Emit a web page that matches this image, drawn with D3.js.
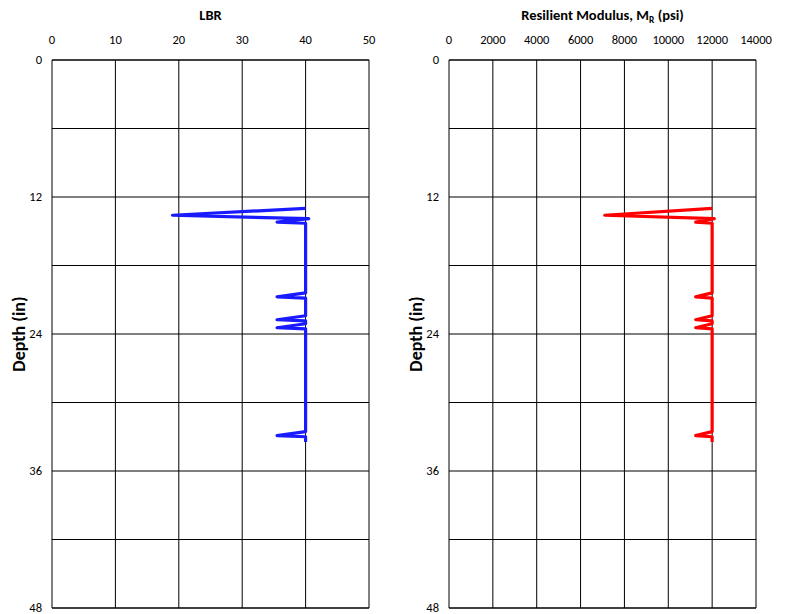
<!DOCTYPE html>
<html><head><meta charset="utf-8">
<script src="https://cdn.jsdelivr.net/npm/d3@7"></script>
<style>
body{margin:0;background:#fff;}
svg{display:block;}
text{font-family:Carlito,"Liberation Sans",Arial,sans-serif;}
</style></head><body>
<script>
// Data
const depth = [13.0, 13.6, 13.9, 14.2, 14.3, 20.4, 20.75, 20.85, 22.4, 22.75, 22.85, 23.1, 23.45, 23.55, 32.55, 32.9, 33.0, 33.45];
const lbr   = [40, 19, 40.5, 35.5, 40, 40, 35.5, 40, 40, 35.5, 40, 40, 35.5, 40, 40, 35.5, 40, 40];
const mr    = [12000, 7100, 12100, 11250, 12000, 12000, 11250, 12000, 12000, 11250, 12000, 12000, 11250, 12000, 12000, 11250, 12000, 12000];
const lbrTicks = [0, 10, 20, 30, 40, 50];
const mrTicks = [0, 2000, 4000, 6000, 8000, 10000, 12000, 14000];
const depthLabels = [0, 12, 24, 36, 48];
const depthGrid = [0, 6, 12, 18, 24, 30, 36, 42, 48];

const W = 786, H = 614;
const svg = d3.select("body").append("svg").attr("width", W).attr("height", H);

function panel(opts) {
  const x = d3.scaleLinear().domain(opts.domain).range([opts.x0, opts.x1]);
  const y = d3.scaleLinear().domain([0, 48]).range([60, 608]);
  const g = svg.append("g");
  // vertical grid
  g.selectAll(".vg").data(opts.ticks).join("line")
    .attr("x1", d => x(d)).attr("x2", d => x(d))
    .attr("y1", y(0)).attr("y2", y(48))
    .attr("stroke", "#000").attr("stroke-width", 1);
  // horizontal grid
  g.selectAll(".hg").data(depthGrid).join("line")
    .attr("x1", x(opts.domain[0])).attr("x2", x(opts.domain[1]))
    .attr("y1", d => y(d)).attr("y2", d => y(d))
    .attr("stroke", "#000").attr("stroke-width", d => (d === 0 || d === 48) ? 1.5 : 1);
  // top tick labels
  g.selectAll(".xt").data(opts.ticks).join("text")
    .attr("x", d => x(d)).attr("y", 44)
    .attr("text-anchor", "middle").attr("font-size", 12.5).attr("fill", "#000")
    .text(d => d);
  // left labels
  g.selectAll(".yt").data(depthLabels).join("text")
    .attr("x", opts.x0 - 10).attr("y", d => y(d) + 4)
    .attr("text-anchor", "end").attr("font-size", 12.5).attr("fill", "#000")
    .text(d => d);
  // y axis title
  g.append("text")
    .attr("transform", `translate(${opts.x0 - 27},${y(24)}) rotate(-90)`)
    .attr("text-anchor", "middle").attr("font-size", 18).attr("font-weight", "bold")
    .text("Depth (in)");
  // title
  const t = g.append("text")
    .attr("x", (opts.x0 + opts.x1) / 2).attr("y", 20)
    .attr("text-anchor", "middle").attr("font-size", 14.5).attr("font-weight", "bold");
  opts.title(t);
  // line
  const line = d3.line().x(d => x(d[0])).y(d => y(d[1]));
  g.append("path")
    .datum(opts.values.map((v, i) => [v, depth[i]]))
    .attr("d", line)
    .attr("fill", "none").attr("stroke", opts.color).attr("stroke-width", 3.2)
    .attr("stroke-linejoin", "round");
}

panel({domain: [0, 50], x0: 52, x1: 369, ticks: lbrTicks, values: lbr, color: "#1a1aff",
  title: t => t.text("LBR")});
panel({domain: [0, 14000], x0: 449, x1: 756, ticks: mrTicks, values: mr, color: "#ff0000",
  title: t => {
    t.append("tspan").text("Resilient Modulus, M");
    t.append("tspan").attr("font-size", 9.5).attr("dy", 3).text("R");
    t.append("tspan").attr("dy", -3).text(" (psi)");
  }});
</script>
</body></html>
